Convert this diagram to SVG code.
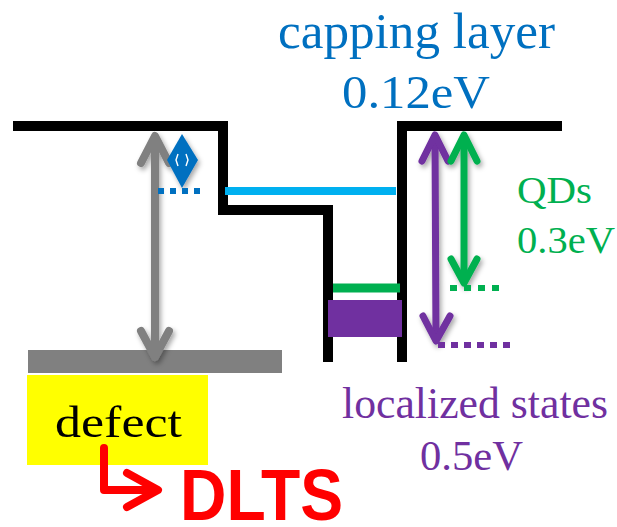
<svg xmlns="http://www.w3.org/2000/svg" width="617" height="527" viewBox="0 0 617 527">
<style>
.band{fill:none;stroke:#000;stroke-width:10;stroke-linejoin:miter}
.serif{font-family:"Liberation Serif","Times New Roman",serif}
.arr{fill:none;stroke-linecap:round;stroke-linejoin:round}
</style>
<defs>
<filter id="sh" x="-50%" y="-20%" width="200%" height="140%">
<feDropShadow dx="2" dy="3" stdDeviation="2.5" flood-color="#000" flood-opacity="0.35"/>
</filter>
</defs>
<rect width="617" height="527" fill="#fff"/>
<g id="band-edge">
<polyline class="band" points="13,126 223,126 223,210 328,210 328,362"/>
<polyline class="band" points="402,362 402,126 562,126"/>
</g>
<g id="capping-level">
<line x1="225" y1="191" x2="396" y2="191" stroke="#00B0F0" stroke-width="8"/>
</g>
<g id="qd-level">
<line x1="333" y1="288" x2="400" y2="288" stroke="#00B050" stroke-width="9"/>
<rect x="328" y="300" width="74" height="37" fill="#7030A0"/>
</g>
<g id="defect-level">
<rect x="28" y="350" width="254" height="23" fill="#808080"/>
</g>
<g id="defect">
<rect x="27" y="375" width="181" height="90" fill="#FFFF00"/>
<text class="serif" x="55" y="437" font-size="45" textLength="127" lengthAdjust="spacingAndGlyphs" fill="#000">defect</text>
</g>
<g id="connectors">
<g filter="url(#sh)">
<g class="arr" stroke="#808080" stroke-width="8">
<line x1="155" y1="138" x2="155" y2="355"/>
<polyline points="141,163 155,136 169,163"/>
<polyline points="141,331 155,357 169,331"/>
</g>
<g class="arr" stroke="#7030A0" stroke-width="7">
<line x1="435" y1="137" x2="436" y2="339"/>
<polyline points="422,161 435,135 448,161"/>
<polyline points="423,316 436,341 450,316"/>
</g>
<g class="arr" stroke="#00B050" stroke-width="7">
<line x1="464" y1="137" x2="464" y2="280"/>
<polyline points="451,161 464,135 477,161"/>
<polyline points="451,259 464,283 477,259"/>
</g>
<polygon points="182,134 198,160 182,188 167,160" fill="#0070C0"/>
<path d="M178,154 L176,160 L178,166 M186,154 L188,160 L186,166" stroke="#fff" stroke-width="1.4" fill="none"/>
</g>
<line x1="158" y1="191" x2="203" y2="191" stroke="#0070C0" stroke-width="6" stroke-dasharray="6,6"/>
<line x1="450" y1="288" x2="500" y2="288" stroke="#00B050" stroke-width="6" stroke-dasharray="7,7"/>
<line x1="438" y1="345" x2="514" y2="345" stroke="#7030A0" stroke-width="6" stroke-dasharray="7,6"/>
<g class="arr" stroke="#FF0000" stroke-width="8" stroke-linecap="butt" stroke-linejoin="miter">
<polyline points="104,448 104,490 155,490"/>
<polyline points="127,473 158,490 127,507" stroke-linecap="round"/>
</g>
</g>
<g id="capping-label" class="serif" fill="#0070C0">
<text x="278" y="48" font-size="50" textLength="277" lengthAdjust="spacingAndGlyphs">capping layer</text>
<text x="342" y="108" font-size="47" textLength="148" lengthAdjust="spacingAndGlyphs">0.12eV</text>
</g>
<g id="qd-label" class="serif" fill="#00B050">
<text x="517" y="203" font-size="37" textLength="75" lengthAdjust="spacingAndGlyphs">QDs</text>
<text x="517" y="253" font-size="38" textLength="98" lengthAdjust="spacingAndGlyphs">0.3eV</text>
</g>
<g id="localized-label" class="serif" fill="#7030A0">
<text x="342" y="418" font-size="44" textLength="266" lengthAdjust="spacingAndGlyphs">localized states</text>
<text x="420" y="470" font-size="43" textLength="103" lengthAdjust="spacingAndGlyphs">0.5eV</text>
</g>
<g id="dlts">
<text x="180" y="520" font-family="'Liberation Sans',Arial,sans-serif" font-weight="bold" font-size="73" textLength="163" lengthAdjust="spacingAndGlyphs" fill="#FF0000">DLTS</text>
</g>
</svg>
